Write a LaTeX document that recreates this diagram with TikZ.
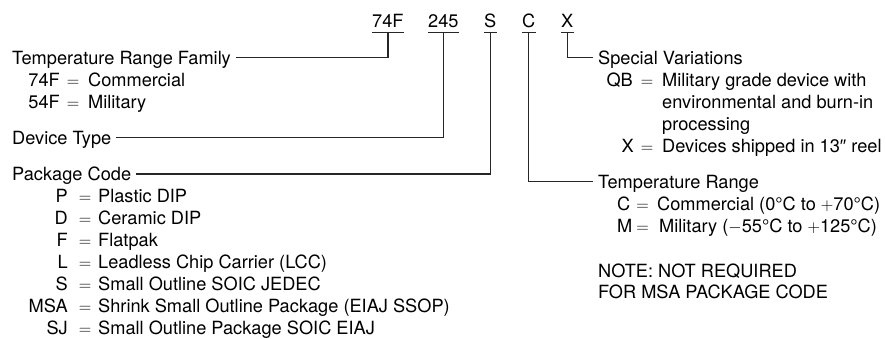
\documentclass[tikz,border=0pt]{standalone}
\usepackage{fontspec}
\setmainfont{TeX Gyre Heros}
\newfontfamily\libfont{Liberation Sans}
\tikzset{
  fnt/.style={font=\fontsize{18.2}{21}\selectfont},
  txt/.style={fnt, inner sep=0pt, anchor=base west},
  keyr/.style={fnt, inner sep=0pt, anchor=base east},
  eqs/.style={fnt, inner sep=0pt, anchor=base},
  lbl/.style={fnt, inner xsep=5pt, inner ysep=0pt, text height=13pt, text depth=0pt, anchor=west},
  code/.style={fnt, inner sep=0pt, text height=13pt, text depth=5pt, anchor=base west},
  conn/.style={draw=black!85, line width=1.25pt},
  uline/.style={draw=black!85, line width=1.1pt}
}
\newcommand{\eqsym}{$=$}
\begin{document}
\begin{tikzpicture}[x=1pt,y=-1pt]
\path[use as bounding box] (0,0) rectangle (886,338);
% codes
\node[code] (c74) at (372,27) {74F};
\node[code] (c245) at (428,27) {245};
\node[code] (cS) at (484,27) {S};
\node[code] (cC) at (522,27) {C};
\node[code] (cX) at (561,27) {X};
\foreach \n in {c74,c245,cS,cC,cX} {\draw[uline] (\n.south west) -- (\n.south east);}
% left labels
\node[lbl] (trf) at (7,57.6) {Temperature Range Family};
\node[keyr] (k74) at (60,86) {74F};
\node[eqs] (e74) at (73,86) {\eqsym};
\node[txt] (v74) at (88,86) {Commercial};
\node[keyr] (k54) at (60,108) {54F};
\node[eqs] (e54) at (73,108) {\eqsym};
\node[txt] (v54) at (88,108) {Military};
\node[lbl] (dt) at (7,137.5) {Device Type};
\node[lbl] (pc) at (7,174) {Package Code};
\node[keyr] (kP) at (68,202.7) {P};
\node[eqs] (eP) at (85,202.7) {\eqsym};
\node[txt] (vP) at (98,202.7) {Plastic DIP};
\node[keyr] (kD) at (68,224.7) {D};
\node[eqs] (eD) at (85,224.7) {\eqsym};
\node[txt] (vD) at (98,224.7) {Ceramic DIP};
\node[keyr] (kF) at (68,246.7) {F};
\node[eqs] (eF) at (85,246.7) {\eqsym};
\node[txt] (vF) at (98,246.7) {Flatpak};
\node[keyr] (kL) at (68,268.7) {L};
\node[eqs] (eL) at (85,268.7) {\eqsym};
\node[txt] (vL) at (98,268.7) {Leadless Chip Carrier (LCC)};
\node[keyr] (kS) at (68,290.7) {S};
\node[eqs] (eS) at (85,290.7) {\eqsym};
\node[txt] (vS) at (98,290.7) {Small Outline SOIC JEDEC};
\node[keyr] (kMSA) at (68,312.7) {MSA};
\node[eqs] (eMSA) at (85,312.7) {\eqsym};
\node[txt] (vMSA) at (98,312.7) {Shrink Small Outline Package (EIAJ SSOP)};
\node[keyr] (kSJ) at (68,334.7) {SJ};
\node[eqs] (eSJ) at (85,334.7) {\eqsym};
\node[txt] (vSJ) at (98,334.7) {Small Outline Package SOIC EIAJ};
% right labels
\node[lbl] (sv) at (593,57.6) {Special Variations};
\node[keyr] (kQB) at (633,86) {QB};
\node[eqs] (eQB) at (647,86) {\eqsym};
\node[txt] (vQB1) at (662,86) {Military grade device with};
\node[txt] (vQB2) at (662,108) {environmental and burn-in};
\node[txt] (vQB3) at (662,130) {processing};
\node[keyr] (kX) at (634,152) {X};
\node[eqs] (eX) at (647,152) {\eqsym};
\node[txt] (vX) at (662,152) {Devices shipped in 13{\libfont ″}\ reel};
\node[lbl] (tr) at (593,181.7) {Temperature Range};
\node[txt] (kC) at (617,210) {C};
\node[eqs] (eC) at (642.5,210) {\eqsym};
\node[txt] (vC) at (657,210) {Commercial (0°C to $+$70°C)};
\node[txt] (kM) at (617,232) {M};
\node[eqs] (eM) at (642.5,232) {\eqsym};
\node[txt] (vM) at (659,232) {Military ($-$55°C to $+$125°C)};
\node[txt] (n1) at (598,277) {NOTE: NOT REQUIRED};
\node[txt] (n2) at (598,298.5) {FOR MSA PACKAGE CODE};
% connectors
\draw[conn] (c74.south) |- (trf.east);
\draw[conn] (c245.south) |- (dt.east);
\draw[conn] (cS.south) |- (pc.east);
\draw[conn] (cC.south) |- (tr.west);
\draw[conn] (cX.south) |- (sv.west);
\end{tikzpicture}
\end{document}
